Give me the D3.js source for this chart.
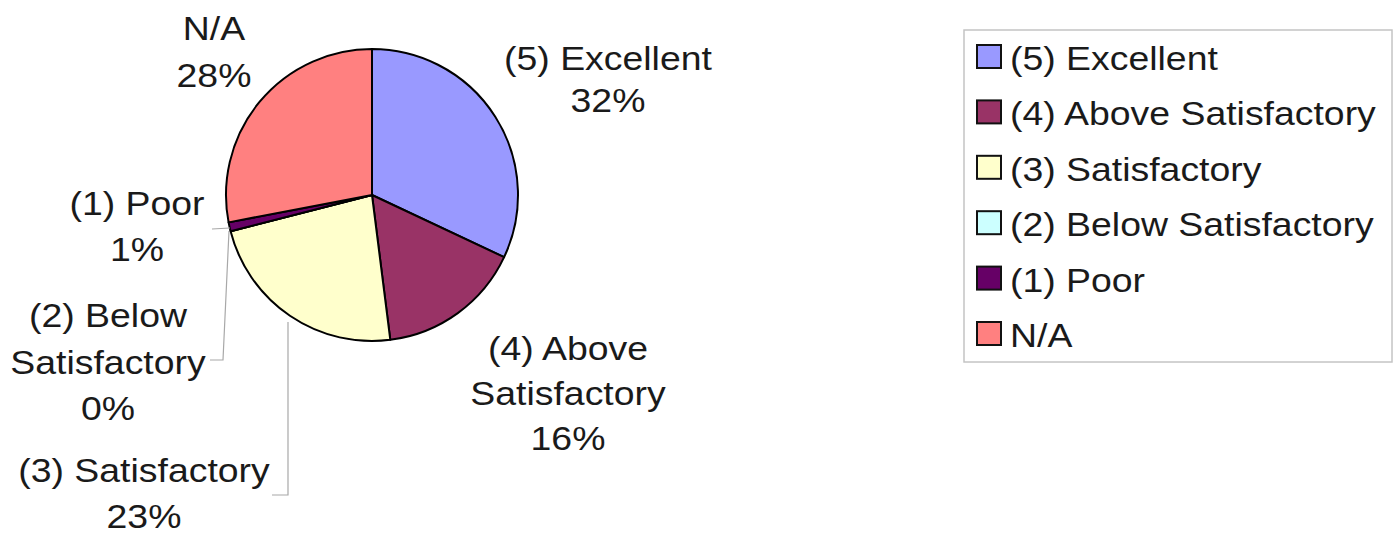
<!DOCTYPE html>
<html>
<head>
<meta charset="utf-8">
<script src="https://cdn.jsdelivr.net/npm/d3@7"></script>
<style>
  html, body { margin: 0; padding: 0; background: #fff; }
  svg { display: block; }
  text { font-family: "Liberation Sans", Arial, sans-serif; fill: #1a1a1a; }
</style>
</head>
<body>
<svg id="chart" width="1400" height="535"></svg>
<script>
// ---- data ----
const categories = ["(5) Excellent", "(4) Above Satisfactory", "(3) Satisfactory", "(2) Below Satisfactory", "(1) Poor", "N/A"];
const values = [32, 16, 23, 0, 1, 28];
const colors = ["#9999ff", "#993366", "#ffffcc", "#ccffff", "#660066", "#ff8080"];
// data label lines (category name wrapped as shown)
const labelLines = [
  ["(5) Excellent"],
  ["(4) Above", "Satisfactory"],
  ["(3) Satisfactory"],
  ["(2) Below", "Satisfactory"],
  ["(1) Poor"],
  ["N/A"]
];

// ---- layout ----
const cx = 372, cy = 195, R = 146;
const fontSize = 34, sx = 1.1;
const labelLayout = [
  { x: 608, y: 70,  dy: 42 },
  { x: 568, y: 360, dy: 45 },
  { x: 144, y: 482, dy: 46 },
  { x: 108, y: 327, dy: 46.5 },
  { x: 137, y: 215, dy: 46 },
  { x: 214, y: 40,  dy: 47 }
];
const leaders = [
  null, null,
  [[288, 322], [288, 495], [272, 495]],
  [[229, 231], [223, 360], [210, 360]],
  [[230, 228], [212, 229]],
  null
];
const legend = { x: 964, y: 30, w: 428, h: 332, firstBase: 70, step: 55.4, swX: 977, sw: 24, sh: 23, textX: 1010 };

const svg = d3.select("#chart");

const pie = d3.pie().sort(null).value(d => d)(values);
const arc = d3.arc().innerRadius(0).outerRadius(R);

const g = svg.append("g").attr("transform", `translate(${cx},${cy})`);
g.selectAll("path").data(pie).join("path")
  .attr("d", arc)
  .attr("fill", (d, i) => colors[i])
  .attr("stroke", "#000")
  .attr("stroke-width", 2)
  .attr("stroke-linejoin", "round");

// leader lines
const line = d3.line();
svg.append("g").selectAll("path")
  .data(leaders.map((l, i) => ({ l, i })).filter(d => d.l))
  .join("path")
  .attr("d", d => line(d.l))
  .attr("fill", "none")
  .attr("stroke", "#a8a8a8")
  .attr("stroke-width", 1.2);

// data labels
const fmt = v => d3.format(".0f")(v) + "%";
const lbl = svg.append("g");
pie.forEach((d, i) => {
  const L = labelLayout[i];
  const lines = labelLines[i].concat([fmt(values[i])]);
  lines.forEach((t, k) => {
    lbl.append("text")
      .attr("transform", `translate(${L.x},${L.y + k * L.dy}) scale(${sx},1)`)
      .attr("text-anchor", "middle")
      .attr("font-size", fontSize)
      .text(t);
  });
});

// legend
const lg = svg.append("g");
lg.append("rect")
  .attr("x", legend.x).attr("y", legend.y)
  .attr("width", legend.w).attr("height", legend.h)
  .attr("fill", "#fff").attr("stroke", "#c4c4c4").attr("stroke-width", 1.5);
categories.forEach((c, i) => {
  const base = legend.firstBase + i * legend.step;
  lg.append("rect")
    .attr("x", legend.swX).attr("y", base - 25)
    .attr("width", legend.sw).attr("height", legend.sh)
    .attr("fill", colors[i]).attr("stroke", "#111").attr("stroke-width", 2);
  lg.append("text")
    .attr("transform", `translate(${legend.textX},${base}) scale(${sx},1)`)
    .attr("font-size", fontSize)
    .text(c);
});
</script>
</body>
</html>
